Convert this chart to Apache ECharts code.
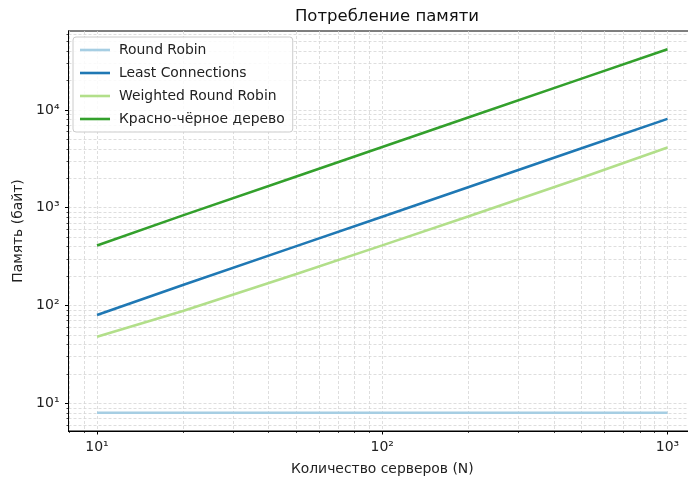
<!DOCTYPE html>
<html>
<head>
<meta charset="utf-8">
<script src="https://cdn.jsdelivr.net/npm/echarts@6/dist/echarts.min.js"></script>
<style>html,body{margin:0;padding:0;background:#fff;overflow:hidden;width:688px;height:481px}#c{width:697px;height:481px}</style>
</head>
<body>
<div id="c"></div>
<script>
const servers = [10, 20, 50, 100, 200, 500, 1000];
const roundRobin = [8, 8, 8, 8, 8, 8, 8];
const leastConnections = [80, 162, 405, 810, 1620, 4050, 8100];
const weightedRoundRobin = [48, 88, 210, 412, 815, 2030, 4120];
const redBlackTree = [410, 835, 2090, 4180, 8360, 20900, 41800];
const seriesNames = ['Round Robin', 'Least Connections', 'Weighted Round Robin', 'Красно-чёрное дерево'];
const colors = ['#a6cee3', '#1f78b4', '#b2df8a', '#33a02c'];

const xMajor = [10, 100, 1000];
const xMinor = [8, 9, 20, 30, 40, 50, 60, 70, 80, 90, 200, 300, 400, 500, 600, 700, 800, 900];
const yMajor = [10, 100, 1000, 10000];
const yMinor = [6, 7, 8, 9, 20, 30, 40, 50, 60, 70, 80, 90, 200, 300, 400, 500, 600, 700, 800, 900,
  2000, 3000, 4000, 5000, 6000, 7000, 8000, 9000, 20000, 30000, 40000, 50000, 60000];
const supDigits = {'1': '¹', '2': '²', '3': '³', '4': '⁴'};
function powLabel(v) {
  const e = Math.round(Math.log10(v));
  return '10' + supDigits[String(e)];
}

const font = 'DejaVu Sans';
const xMin = Math.pow(10, 0.9), xMax = Math.pow(10, 3.1);
const yMin = Math.pow(10, 0.717), yMax = Math.pow(10, 4.807);
const gridLine = {show: true, lineStyle: {color: '#d6d6d6', width: 0.8, type: [3, 2]}};

function makeX(major) {
  return {
    type: 'log', logBase: 10, min: xMin, max: xMax, position: 'bottom', gridIndex: 0,
    axisLine: {show: true, onZero: false, lineStyle: {color: '#000', width: 1}},
    axisTick: {show: true, length: major ? 3.5 : 2, customValues: major ? xMajor : xMinor,
      lineStyle: {color: '#000', width: major ? 1 : 0.7}},
    axisLabel: major ? {show: true, customValues: xMajor, formatter: powLabel, margin: 9,
      color: '#222', fontSize: 14, fontFamily: font} : {show: false},
    splitLine: gridLine,
    name: major ? 'Количество серверов (N)' : '',
    nameLocation: 'middle', nameGap: 31,
    nameTextStyle: {color: '#222', fontSize: 13.9, fontFamily: font}
  };
}
function makeY(major) {
  return {
    type: 'log', logBase: 10, min: yMin, max: yMax, position: 'left', gridIndex: 0,
    axisLine: {show: true, onZero: false, lineStyle: {color: '#000', width: 1}},
    axisTick: {show: true, length: major ? 3.5 : 2, customValues: major ? yMajor : yMinor,
      lineStyle: {color: '#000', width: major ? 1 : 0.7}},
    axisLabel: major ? {show: true, customValues: yMajor, formatter: powLabel, margin: 9,
      color: '#222', fontSize: 14, fontFamily: font, padding: [3, 0, 0, 0]} : {show: false},
    splitLine: gridLine,
    name: major ? 'Память (байт)' : '',
    nameLocation: 'middle', nameGap: 37,
    nameTextStyle: {color: '#222', fontSize: 13.9, fontFamily: font}
  };
}

const allValues = [roundRobin, leastConnections, weightedRoundRobin, redBlackTree];
const series = allValues.map((vals, i) => ({
  name: seriesNames[i],
  type: 'line',
  xAxisIndex: 0, yAxisIndex: 0,
  data: servers.map((n, j) => [n, vals[j]]),
  showSymbol: false, symbol: 'none',
  lineStyle: {color: colors[i], width: 2.6},
  itemStyle: {color: colors[i]},
  z: 3 + i,
  animation: false
}));

const chart = echarts.init(document.getElementById('c'), null, {renderer: 'canvas'});
chart.setOption({
  animation: false,
  backgroundColor: '#fff',
  color: colors,
  title: {
    text: 'Потребление памяти', left: 382, top: 3, textAlign: 'center',
    textStyle: {color: '#111', fontSize: 16.5, fontWeight: 'normal', fontFamily: font}
  },
  grid: {left: 68.5, right: 1, top: 31, bottom: 48, show: true, borderColor: '#000', borderWidth: 1, containLabel: false},
  legend: {
    orient: 'vertical', left: 73, top: 37,
    data: seriesNames.map(n => ({name: n, icon: 'rect'})),
    itemWidth: 30, itemHeight: 2.6, itemGap: 7,
    padding: [5, 8, 5, 7],
    backgroundColor: 'rgba(255,255,255,0.85)', borderColor: '#cccccc', borderWidth: 1, borderRadius: 3,
    textStyle: {color: '#222', fontSize: 13.9, fontFamily: font, lineHeight: 16, padding: [0, 0, 0, 4]}
  },
  xAxis: [makeX(true), makeX(false)],
  yAxis: [makeY(true), makeY(false)],
  series: series
});
</script>
</body>
</html>
